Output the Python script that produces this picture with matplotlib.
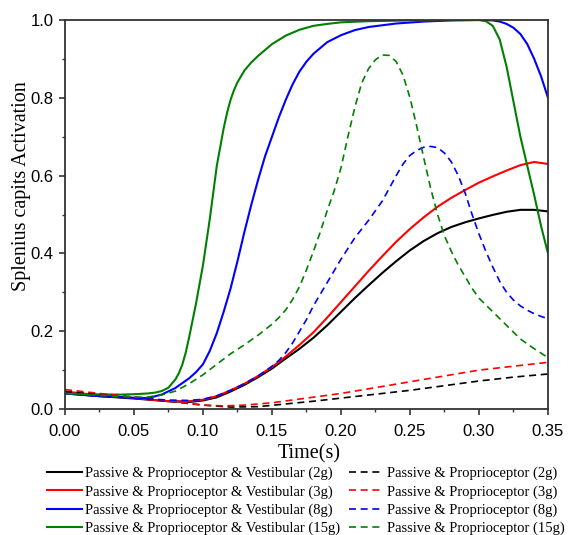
import matplotlib.pyplot as plt
from matplotlib.ticker import MultipleLocator

# data
t_black = [0, 0.025, 0.05, 0.075, 0.09, 0.1, 0.11, 0.12, 0.13, 0.14, 0.15, 0.16, 0.17, 0.18, 0.19, 0.2,
           0.21, 0.22, 0.23, 0.24, 0.25, 0.26, 0.27, 0.28, 0.29, 0.3, 0.31, 0.32, 0.33, 0.34, 0.35]
v_black = [0.04, 0.033, 0.027, 0.02, 0.018, 0.022, 0.03, 0.045, 0.062, 0.082, 0.104, 0.13, 0.155, 0.183, 0.215, 0.25,
           0.285, 0.318, 0.35, 0.38, 0.408, 0.432, 0.452, 0.468, 0.48, 0.49, 0.499, 0.507, 0.512, 0.512, 0.508]

t_red = t_black
v_red = [0.045, 0.035, 0.028, 0.02, 0.02, 0.024, 0.033, 0.048, 0.065, 0.085, 0.108, 0.135, 0.165, 0.197, 0.235, 0.275,
         0.315, 0.355, 0.393, 0.43, 0.463, 0.493, 0.52, 0.543, 0.563, 0.582, 0.598, 0.613, 0.627, 0.635, 0.63]

t_blue = [0, 0.025, 0.05, 0.06, 0.07, 0.08, 0.09, 0.095, 0.1, 0.105, 0.11, 0.115, 0.12, 0.125, 0.13, 0.135, 0.14,
          0.145, 0.15, 0.155, 0.16, 0.165, 0.17, 0.175, 0.18, 0.19, 0.2, 0.21, 0.22, 0.24, 0.26, 0.28, 0.3, 0.31,
          0.315, 0.32, 0.325, 0.33, 0.335, 0.34, 0.345, 0.35]
v_blue = [0.04, 0.033, 0.029, 0.028, 0.037, 0.054, 0.079, 0.095, 0.115, 0.15, 0.195, 0.25, 0.31, 0.38, 0.455, 0.525,
          0.59, 0.65, 0.7, 0.75, 0.795, 0.835, 0.868, 0.893, 0.913, 0.943, 0.961, 0.974, 0.982, 0.991, 0.996, 0.999,
          1.0, 0.999, 0.996, 0.99, 0.98, 0.964, 0.938, 0.9, 0.855, 0.8]

t_green = [0, 0.02, 0.04, 0.05, 0.06, 0.065, 0.07, 0.075, 0.08, 0.0825, 0.085, 0.0875, 0.09, 0.095, 0.1, 0.105,
           0.11, 0.115, 0.1175, 0.12, 0.1225, 0.125, 0.13, 0.135, 0.14, 0.15, 0.16, 0.17, 0.18, 0.19, 0.2, 0.22,
           0.25, 0.3, 0.305, 0.31, 0.315, 0.32, 0.325, 0.33, 0.335, 0.34, 0.345, 0.35]
v_green = [0.04, 0.038, 0.037, 0.038, 0.04, 0.042, 0.046, 0.055, 0.076, 0.092, 0.114, 0.145, 0.185, 0.272, 0.37, 0.49,
           0.625, 0.722, 0.762, 0.795, 0.82, 0.84, 0.87, 0.891, 0.908, 0.938, 0.96, 0.975, 0.985, 0.99, 0.994, 0.997,
           0.999, 1.0, 0.997, 0.985, 0.95, 0.88, 0.79, 0.70, 0.625, 0.55, 0.47, 0.40]

t_black_d = [0, 0.025, 0.05, 0.075, 0.1, 0.12, 0.14, 0.16, 0.18, 0.2, 0.225, 0.25, 0.275, 0.3, 0.325, 0.35]
v_black_d = [0.045, 0.038, 0.03, 0.02, 0.01, 0.005, 0.006, 0.013, 0.02, 0.028, 0.038, 0.048, 0.06, 0.072, 0.082, 0.09]

t_red_d = [0, 0.025, 0.05, 0.075, 0.1, 0.115, 0.13, 0.15, 0.175, 0.2, 0.225, 0.25, 0.275, 0.3, 0.325, 0.35]
v_red_d = [0.05, 0.04, 0.031, 0.021, 0.01, 0.008, 0.01, 0.016, 0.028, 0.04, 0.055, 0.07, 0.085, 0.1, 0.11, 0.12]

t_blue_d = [0, 0.025, 0.05, 0.075, 0.09, 0.1, 0.11, 0.12, 0.13, 0.14, 0.15, 0.155, 0.16, 0.165, 0.17, 0.175, 0.18,
            0.185, 0.19, 0.2, 0.21, 0.22, 0.23, 0.24, 0.245, 0.25, 0.255, 0.26, 0.265, 0.27, 0.275, 0.28, 0.285,
            0.29, 0.295, 0.3, 0.305, 0.31, 0.315, 0.32, 0.325, 0.33, 0.335, 0.34, 0.345, 0.35]
v_blue_d = [0.04, 0.033, 0.028, 0.023, 0.022, 0.025, 0.034, 0.048, 0.065, 0.085, 0.11, 0.125, 0.145, 0.17, 0.2, 0.23,
            0.265, 0.295, 0.325, 0.385, 0.44, 0.485, 0.535, 0.6, 0.63, 0.652, 0.665, 0.673, 0.675, 0.672, 0.658,
            0.635, 0.6, 0.555, 0.5, 0.45, 0.405, 0.365, 0.328, 0.3, 0.28, 0.265, 0.254, 0.245, 0.238, 0.232]

t_green_d = [0, 0.025, 0.05, 0.06, 0.07, 0.08, 0.09, 0.1, 0.11, 0.12, 0.13, 0.14, 0.15, 0.155, 0.16, 0.165, 0.17,
             0.175, 0.18, 0.185, 0.19, 0.195, 0.2, 0.205, 0.21, 0.215, 0.22, 0.225, 0.23, 0.235, 0.24, 0.245, 0.25,
             0.255, 0.26, 0.265, 0.27, 0.275, 0.28, 0.285, 0.29, 0.295, 0.3, 0.31, 0.32, 0.33, 0.34, 0.35]
v_green_d = [0.04, 0.035, 0.03, 0.031, 0.036, 0.046, 0.065, 0.088, 0.115, 0.142, 0.165, 0.19, 0.218, 0.235, 0.255,
             0.282, 0.315, 0.358, 0.405, 0.455, 0.51, 0.56, 0.62, 0.7, 0.775, 0.838, 0.875, 0.898, 0.91, 0.909, 0.893,
             0.858, 0.8, 0.725, 0.645, 0.567, 0.5, 0.445, 0.405, 0.37, 0.34, 0.31, 0.285, 0.25, 0.215, 0.18, 0.155,
             0.132]

labels_solid = ["Passive & Proprioceptor & Vestibular (2g)", "Passive & Proprioceptor & Vestibular (3g)",
                "Passive & Proprioceptor & Vestibular (8g)", "Passive & Proprioceptor & Vestibular (15g)"]
labels_dash = ["Passive & Proprioceptor (2g)", "Passive & Proprioceptor (3g)",
               "Passive & Proprioceptor (8g)", "Passive & Proprioceptor (15g)"]
colors = ["black", "#ff0000", "#0000ff", "#008000"]

fig = plt.figure(figsize=(5.71, 5.35), dpi=100)
ax = fig.add_axes([0.1138, 0.2355, 0.8459, 0.7271])

solid = [(t_black, v_black), (t_red, v_red), (t_blue, v_blue), (t_green, v_green)]
dashed = [(t_black_d, v_black_d), (t_red_d, v_red_d), (t_blue_d, v_blue_d), (t_green_d, v_green_d)]

for (t, v), c, lab in zip(solid, colors, labels_solid):
    ax.plot(t, v, color=c, lw=1.5, label=lab)
for (t, v), c, lab in zip(dashed, colors, labels_dash):
    ax.plot(t, v, color=c, lw=1.2, ls=(0, (4.2, 2.8)), label=lab)

ax.set_xlim(0, 0.35)
ax.set_ylim(0, 1.0)
ax.xaxis.set_major_locator(MultipleLocator(0.05))
ax.xaxis.set_minor_locator(MultipleLocator(0.025))
ax.yaxis.set_major_locator(MultipleLocator(0.2))
ax.yaxis.set_minor_locator(MultipleLocator(0.1))
ax.tick_params(which='major', direction='out', length=4.5, width=1.2, labelsize=12, color='#333333', pad=3.5)
ax.tick_params(axis='x', which='major', pad=6.5)
ax.tick_params(which='minor', direction='out', length=2.5, width=1.0, color='#333333')
ax.xaxis.set_major_formatter(plt.FuncFormatter(lambda x, p: f"{x:.2f}"))
ax.yaxis.set_major_formatter(plt.FuncFormatter(lambda x, p: f"{x:.1f}"))
for lab in ax.get_xticklabels() + ax.get_yticklabels():
    lab.set_family('Liberation Sans')
for s in ax.spines.values():
    s.set_linewidth(1.3)
    s.set_color('#333333')

ax.set_xlabel("Time(s)", family='Liberation Serif', fontsize=14.5)
ax.set_ylabel("Splenius capits Activation", family='Liberation Serif', fontsize=14.5)
ax.xaxis.set_label_coords(0.506, -0.09)
ax.yaxis.set_label_coords(-0.07, 0.573)

handles, labels = ax.get_legend_handles_labels()
fig.legend(handles, labels, ncol=2, loc='upper left', bbox_to_anchor=(47 / 571, 1 - 467 / 535), frameon=False,
           prop={'family': 'Liberation Serif', 'size': 10.5}, handlelength=2.4, handletextpad=0.2,
           columnspacing=0.64, labelspacing=0.32, borderpad=0, borderaxespad=0)

fig.savefig("out.png", dpi=100)
